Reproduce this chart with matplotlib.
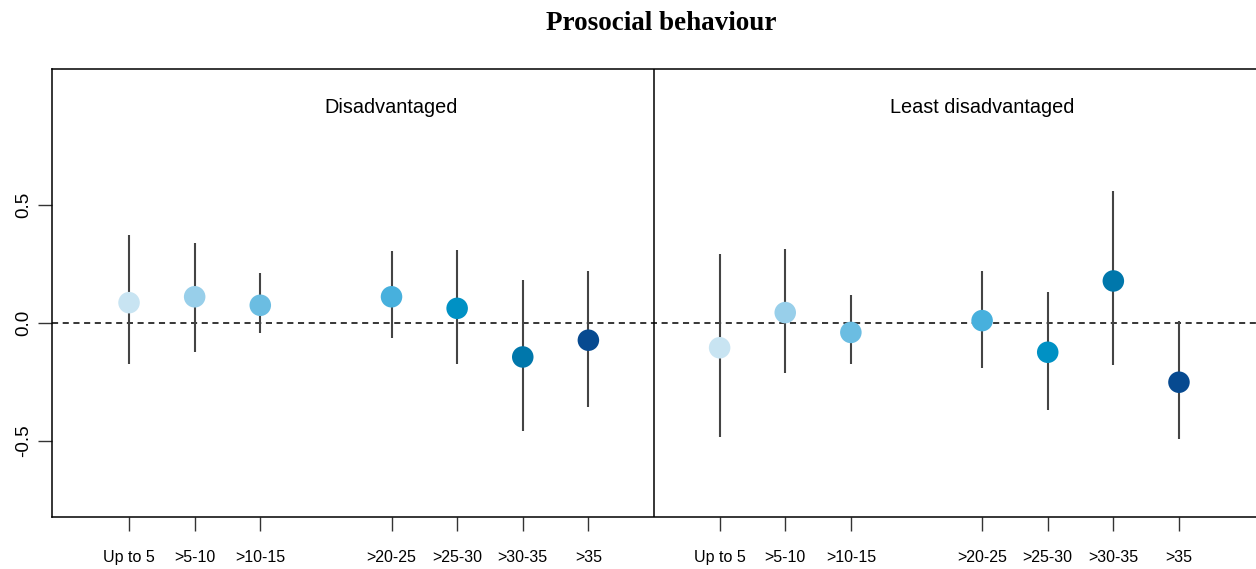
import matplotlib
matplotlib.use("Agg")
import matplotlib.pyplot as plt

categories = ["Up to 5", ">5-10", ">10-15", ">20-25", ">25-30", ">30-35", ">35"]
cat_pos = [1, 2, 3, 5, 6, 7, 8]
colors = ["#c8e4f2", "#98cfea", "#6bbde2", "#47b0dd", "#0091c4", "#0077ab", "#074a90"]

panels = ["Disadvantaged", "Least disadvantaged"]

dis_est = [0.086, 0.111, 0.075, 0.111, 0.062, -0.144, -0.073]
dis_lo = [-0.174, -0.122, -0.044, -0.065, -0.174, -0.456, -0.357]
dis_hi = [0.371, 0.340, 0.210, 0.304, 0.309, 0.184, 0.219]

least_est = [-0.105, 0.044, -0.040, 0.010, -0.124, 0.178, -0.251]
least_lo = [-0.482, -0.210, -0.174, -0.191, -0.367, -0.179, -0.493]
least_hi = [0.292, 0.314, 0.120, 0.220, 0.131, 0.559, 0.010]

yticks = [-0.5, 0.0, 0.5]

plt.rcParams["font.family"] = ["Liberation Sans", "DejaVu Sans"]

fig = plt.figure(figsize=(12.56, 5.69), dpi=100)
ax = fig.add_axes([52 / 1256, 1 - 517 / 569, 1 - 52 / 1256, (517 - 69) / 569])

offset = 9
series = [(dis_est, dis_lo, dis_hi, 0), (least_est, least_lo, least_hi, offset)]
xt, xl = [], []
for est, lo, hi, off in series:
    xs = [p + off for p in cat_pos]
    ax.vlines(xs, lo, hi, color="#444444", lw=1.5, zorder=2)
    ax.scatter(xs, est, s=15.5 ** 2, c=colors, edgecolors="none", zorder=3)
    xt += xs
    xl += categories

ax.axhline(0, color="black", lw=1.1, ls=(0, (4, 3)), zorder=1)
ax.axvline(offset, color="black", lw=1.1, zorder=1)

ax.text(5, 0.915, panels[0], ha="center", va="center", fontsize=14.3)
ax.text(5 + offset, 0.915, panels[1], ha="center", va="center", fontsize=14.3)

ax.set_xlim(-0.174, 18.174)
ax.set_ylim(-0.822, 1.076)
ax.set_xticks(xt)
ax.set_xticklabels(xl, fontsize=11.5)
ax.set_yticks(yticks)
ax.set_yticklabels([f"{v:.1f}" for v in yticks], fontsize=13.5, rotation=90, va="center")
ax.tick_params(axis="both", length=10, width=1.0, color="#333333")
ax.tick_params(axis="x", pad=14)
ax.tick_params(axis="y", pad=4)
for s in ["left", "top", "bottom"]:
    ax.spines[s].set_linewidth(1.1)
ax.spines["right"].set_visible(False)

fig.text(661 / 1256, 1 - 24 / 569, "Prosocial behaviour", ha="center", va="center",
         fontsize=19.5, fontweight="bold", family=["Liberation Serif", "DejaVu Serif"])

fig.savefig("out.png", dpi=100)
